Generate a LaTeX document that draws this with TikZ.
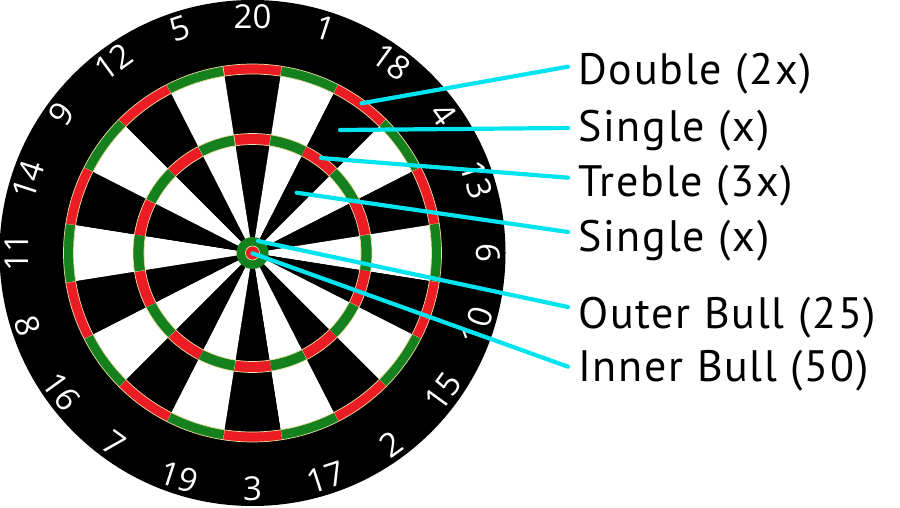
\documentclass[tikz,border=0pt]{standalone}
\usepackage{fontspec}
\setmainfont{PT Sans}
\newfontfamily\labfont{PT Sans}[LetterSpace=4]
\newfontfamily\numfont{Open Sans}
\definecolor{dred}{RGB}{236,28,36}
\definecolor{dgreen}{RGB}{20,128,30}
\definecolor{wire}{RGB}{240,222,160}
\definecolor{pointer}{RGB}{0,228,240}
\tikzset{
  lab/.style={anchor=base west, inner sep=0pt, font=\labfont\fontsize{44}{50}\selectfont, text=black},
  num/.style={inner sep=0pt, font=\numfont\fontsize{33}{40}\selectfont, text=white},
  ptr/.style={draw=pointer, line width=4.2pt, line cap=round},
  wireline/.style={draw=wire, line width=0.7pt}
}
\begin{document}
\begin{tikzpicture}[x=1pt,y=1pt]
\useasboundingbox (0,0) rectangle (900,507);
\fill[white] (0,0) rectangle (900,507);
\coordinate (c) at (252.5,254);
\fill[black] (c) circle (253);
\begin{scope}[shift={(c)}]
\foreach \n [count=\i from 0] in {20,1,18,4,13,6,10,15,2,17,3,19,7,16,8,11,14,9,12,5} {
  \pgfmathsetmacro\a{90-18*\i}
  \pgfmathsetmacro\aa{\a-9}
  \pgfmathsetmacro\ab{\a+9}
  \pgfmathtruncatemacro\odd{mod(\i,2)}
  \ifnum\odd=0
    \def\scol{black}\def\rcol{dred}
  \else
    \def\scol{white}\def\rcol{dgreen}
  \fi
  % single wedge
  \fill[\scol] (0,0) -- (\aa:179) arc[start angle=\aa, end angle=\ab, radius=179] -- cycle;
  % double ring piece
  \fill[\rcol] (\aa:189) arc[start angle=\aa, end angle=\ab, radius=189] -- (\ab:179) arc[start angle=\ab, end angle=\aa, radius=179] -- cycle;
  % treble ring piece
  \fill[\rcol] (\aa:119.5) arc[start angle=\aa, end angle=\ab, radius=119.5] -- (\ab:108.5) arc[start angle=\ab, end angle=\aa, radius=108.5] -- cycle;
  % wires between ring pieces
  \draw[wireline] (\aa:179) -- (\aa:189);
  \draw[wireline] (\aa:108.5) -- (\aa:119.5);
  % number
  \pgfmathsetmacro\rot{sin(\a)>-0.001 ? \a-90 : \a+90}
  \node[num, rotate=\rot] (n\n) at (\a:236) {\n};
}
\draw[wireline] (0,0) circle (179);
\draw[wireline] (0,0) circle (189);
\draw[wireline] (0,0) circle (108.5);
\draw[wireline] (0,0) circle (119.5);
\fill[dgreen] (0,0) circle (16);
\fill[dred] (0,0) circle (7);
\draw[wireline] (0,0) circle (7);
\end{scope}

% labels
\node[lab] (lDouble) at (578,422) {Double (2x)};
\node[lab] (lSingleA) at (578,365.3) {Single (x)};
\node[lab] (lTreble) at (578,310.3) {Treble (3x)};
\node[lab] (lSingleB) at (578,256) {Single (x)};
\node[lab] (lOuter) at (578,179) {Outer Bull (25)};
\node[lab] (lInner) at (578,125.3) {Inner Bull (50)};

% pointer ends
\coordinate (sDouble) at (361.7,403.7);
\coordinate (sSingleA) at (340,377);
\coordinate (sTreble) at (321,349);
\coordinate (sSingleB) at (296.7,314.3);
\coordinate (sOuter) at (258,266);
\coordinate (sInner) at (252.5,253.7);
\coordinate (eDouble) at (568,440.3);
\coordinate (eSingleA) at (568,379);
\coordinate (eTreble) at (568,329.3);
\coordinate (eSingleB) at (568,275);
\coordinate (eOuter) at (568,200);
\coordinate (eInner) at (568,140.3);

\draw[ptr] (sDouble) -- (eDouble);
\draw[ptr] (sSingleA) -- (eSingleA);
\draw[ptr] (sTreble) -- (eTreble);
\draw[ptr] (sSingleB) -- (eSingleB);
\draw[ptr] (sOuter) -- (eOuter);
\draw[ptr] (sInner) -- (eInner);
\end{tikzpicture}
\end{document}
